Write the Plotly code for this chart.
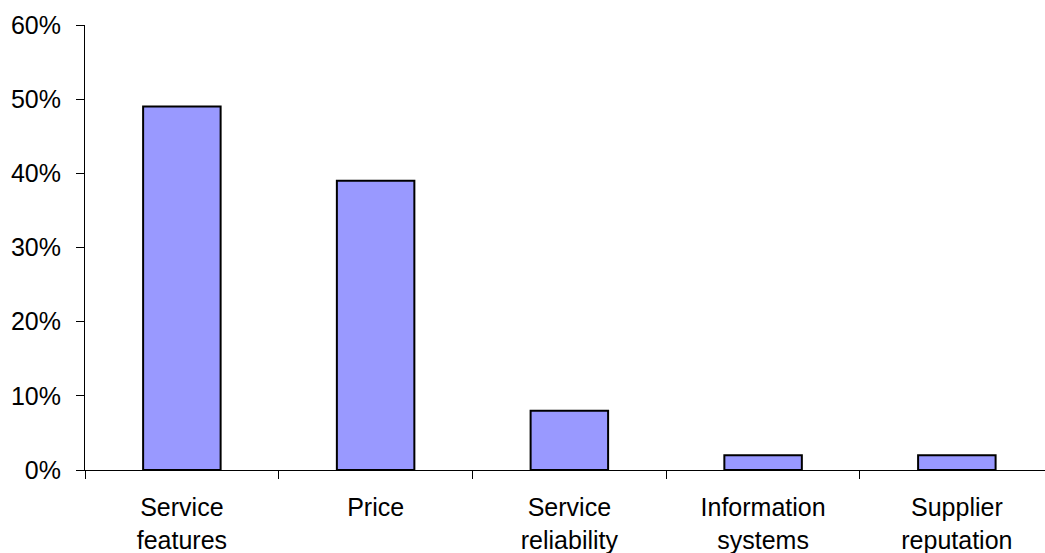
import plotly.graph_objects as go

# Share of respondents citing each factor
categories = ["Service<br>features", "Price", "Service<br>reliability",
              "Information<br>systems", "Supplier<br>reputation"]
shares = [0.49, 0.39, 0.08, 0.02, 0.02]
y_ticks = [0, 0.1, 0.2, 0.3, 0.4, 0.5, 0.6]
y_tick_labels = ["0%", "10%", "20%", "30%", "40%", "50%", "60%"]

fig = go.Figure(
    go.Bar(
        x=categories,
        y=shares,
        width=0.4,
        marker=dict(color="#9999FF", line=dict(color="black", width=2)),
    )
)

fig.update_layout(
    width=1045,
    height=553,
    margin=dict(l=85, r=0, t=25, b=83),
    paper_bgcolor="white",
    plot_bgcolor="white",
    font=dict(family="Liberation Sans, Arial, sans-serif", size=25, color="black"),
    showlegend=False,
)

fig.update_xaxes(
    range=[-0.5, 4.455],
    showline=True,
    linecolor="black",
    linewidth=1,
    ticks="outside",
    tickson="boundaries",
    ticklen=8,
    tickcolor="black",
    showgrid=False,
    zeroline=False,
    ticklabelstandoff=15,
)

fig.update_yaxes(
    range=[0, 0.6],
    tickvals=y_ticks,
    ticktext=y_tick_labels,
    showline=True,
    linecolor="black",
    linewidth=1,
    ticks="outside",
    ticklen=8,
    tickcolor="black",
    showgrid=False,
    zeroline=False,
    ticklabelstandoff=10,
)

fig.write_html("out.html")
